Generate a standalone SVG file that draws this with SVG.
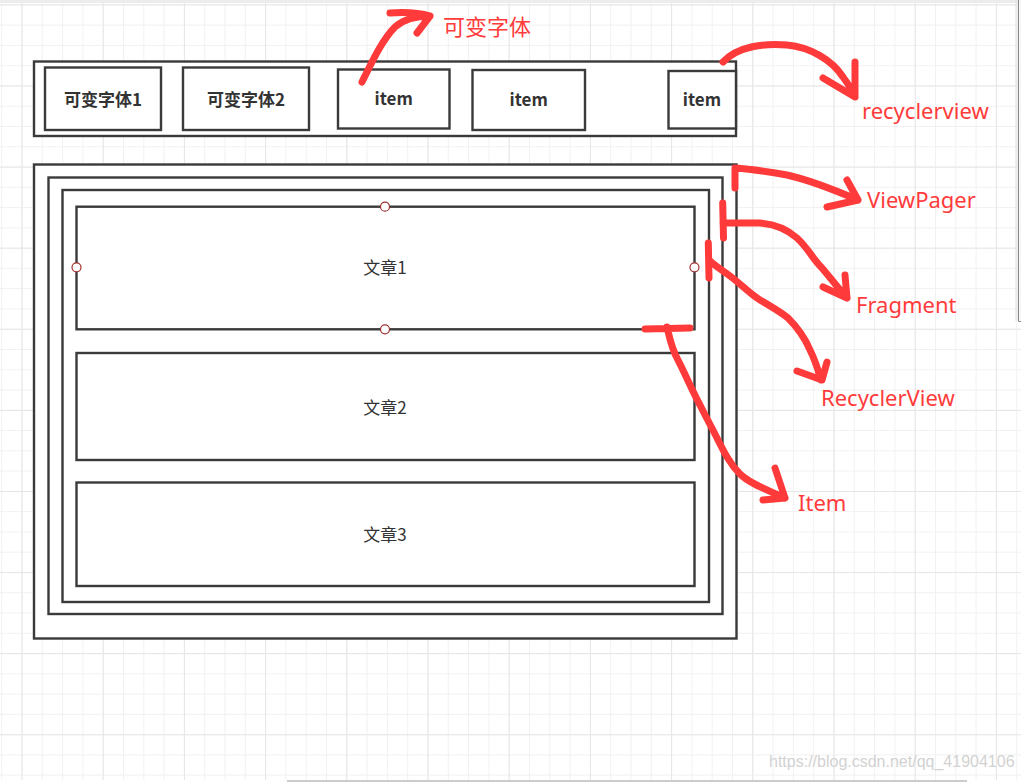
<svg xmlns="http://www.w3.org/2000/svg" width="1021" height="782" viewBox="0 0 1021 782">
<defs>
<pattern id="minor" patternUnits="userSpaceOnUse" x="1.2" y="4.4" width="20.3" height="20.27">
<rect width="20.3" height="1" fill="#f1f1f1"/><rect width="1" height="20.27" fill="#f1f1f1"/>
</pattern>
<pattern id="major" patternUnits="userSpaceOnUse" x="21.5" y="4.4" width="81.2" height="81.1">
<rect width="81.2" height="1" fill="#e6e6e6"/><rect width="1" height="81.1" fill="#e6e6e6"/>
</pattern>
<style>
.box{fill:#fff;stroke:#3a3a3a;stroke-width:2.4}
.lbl{font-family:"Noto Sans CJK SC","Noto Sans",sans-serif;font-size:17px;font-weight:bold;fill:#333;text-anchor:middle}
.art{font-family:"Noto Sans CJK SC","Noto Sans",sans-serif;font-size:17px;fill:#333;text-anchor:middle}
.pt{fill:#fff;stroke:#a03030;stroke-width:1.2}
.ink{fill:none;stroke:#fe3a3a;stroke-width:7;stroke-linecap:round;stroke-linejoin:round}
.note{font-family:"Noto Sans","Noto Sans CJK SC",sans-serif;font-size:22px;fill:#ff3b3b}
</style>
</defs>
<rect width="1021" height="782" fill="#fff"/>
<rect x="0" y="0" width="1021" height="780" fill="url(#minor)"/>
<rect x="0" y="0" width="1021" height="780" fill="url(#major)"/>
<rect x="0" y="0" width="1021" height="3" fill="#ececec"/>
<rect x="1015" y="0" width="3" height="321" fill="#e4e4e4" opacity="0.6"/>
<rect x="1018" y="0" width="3" height="321" fill="#f6f6f6"/>
<path d="M1018.5 0 V321.5 H1021" fill="none" stroke="#8a8a8a" stroke-width="1"/>
<rect x="287" y="780" width="680" height="2" fill="#cccccc"/>

<g id="topbar">
<rect class="box" x="34" y="61.5" width="702" height="74.5"/>
</g>
<g id="font1"><rect class="box" x="45" y="67.5" width="116" height="62.5"/><text class="lbl" x="103" y="105.5">可变字体1</text></g>
<g id="font2"><rect class="box" x="183" y="67.5" width="126" height="62.5"/><text class="lbl" x="246" y="105.5">可变字体2</text></g>
<g id="item3"><rect class="box" x="338" y="69.5" width="111.5" height="59"/><text class="lbl" x="393.7" y="105">item</text></g>
<g id="item4"><rect class="box" x="472.5" y="70" width="112.5" height="60"/><text class="lbl" x="528.7" y="106">item</text></g>
<g id="item5"><rect class="box" x="668.5" y="71" width="67.5" height="57.5"/><text class="lbl" x="702" y="105.5">item</text></g>

<g id="viewpager"><rect class="box" x="34" y="164.5" width="702.5" height="474"/></g>
<g id="fragment"><rect class="box" x="48.5" y="177.5" width="674" height="436.5"/></g>
<g id="recyclerview"><rect class="box" x="62.5" y="190" width="646.5" height="412"/></g>
<g id="article1">
<rect class="box" x="76.5" y="206.7" width="618" height="122.6"/>
<text class="art" x="385" y="273.5">文章1</text>
<circle class="pt" cx="385" cy="206.7" r="4.5"/>
<circle class="pt" cx="76.5" cy="267.3" r="4.5"/>
<circle class="pt" cx="694.5" cy="267.3" r="4.5"/>
<circle class="pt" cx="385" cy="329.3" r="4.5"/>
</g>
<g id="article2"><rect class="box" x="76.5" y="353" width="618" height="107"/><text class="art" x="385" y="413.5">文章2</text></g>
<g id="article3"><rect class="box" x="76.5" y="482.5" width="618" height="103.5"/><text class="art" x="385" y="540.5">文章3</text></g>

<g id="connectors">
<path class="ink" d="M362,82 C372,62 382,40 395,27 C405,18 418,16 430,16 M390,13 C405,12 420,13 430,16 M430,16 L417,33"/>
<path class="ink" d="M723,62 C738,46 765,43 787,45 C810,47 832,60 843,77 C849,85 853,92 855,97 M855,62 L855,97 L823,78"/>
<path class="ink" d="M735,168 L735,188 M735,168 C750,169 770,172 787,175 C805,179 830,188 858,200 M847,180 L858,200 L827,207"/>
<path class="ink" d="M722.7,203 L723.5,238 M723,223 L760,223 C775,224 787,229 797,238 C808,248 812,258 822,268 C832,280 840,290 847,298 M845,275 L847,298 L823,287"/>
<path class="ink" d="M708.3,243 L709,278 M709,260 C715,266 722,270 730,276 C742,285 750,294 760,300 C772,307 782,313 788,318 C798,328 805,338 810,350 C816,362 818,370 821,380 M827,362 L822,380 L797,371"/>
<path class="ink" d="M645,329 L690,328 M667,327 C670,340 672,350 678,360 C687,378 693,392 700,405 C706,417 712,428 718,440 C724,452 730,464 740,474 C750,484 768,490 785,498 M775,468 L785,498 L763,500"/>
</g>

<g id="notes">
<text class="note" x="443" y="35">可变字体</text>
<text class="note" x="862" y="119">recyclerview</text>
<text class="note" x="867" y="208">ViewPager</text>
<text class="note" x="856" y="313">Fragment</text>
<text class="note" x="821" y="406">RecyclerView</text>
<text class="note" x="798" y="511">Item</text>
</g>
<text x="769" y="767" font-family="Liberation Sans, Arial, sans-serif" font-size="16" fill="#d2d2d2">https://blog.csdn.net/qq_41904106</text>
</svg>
